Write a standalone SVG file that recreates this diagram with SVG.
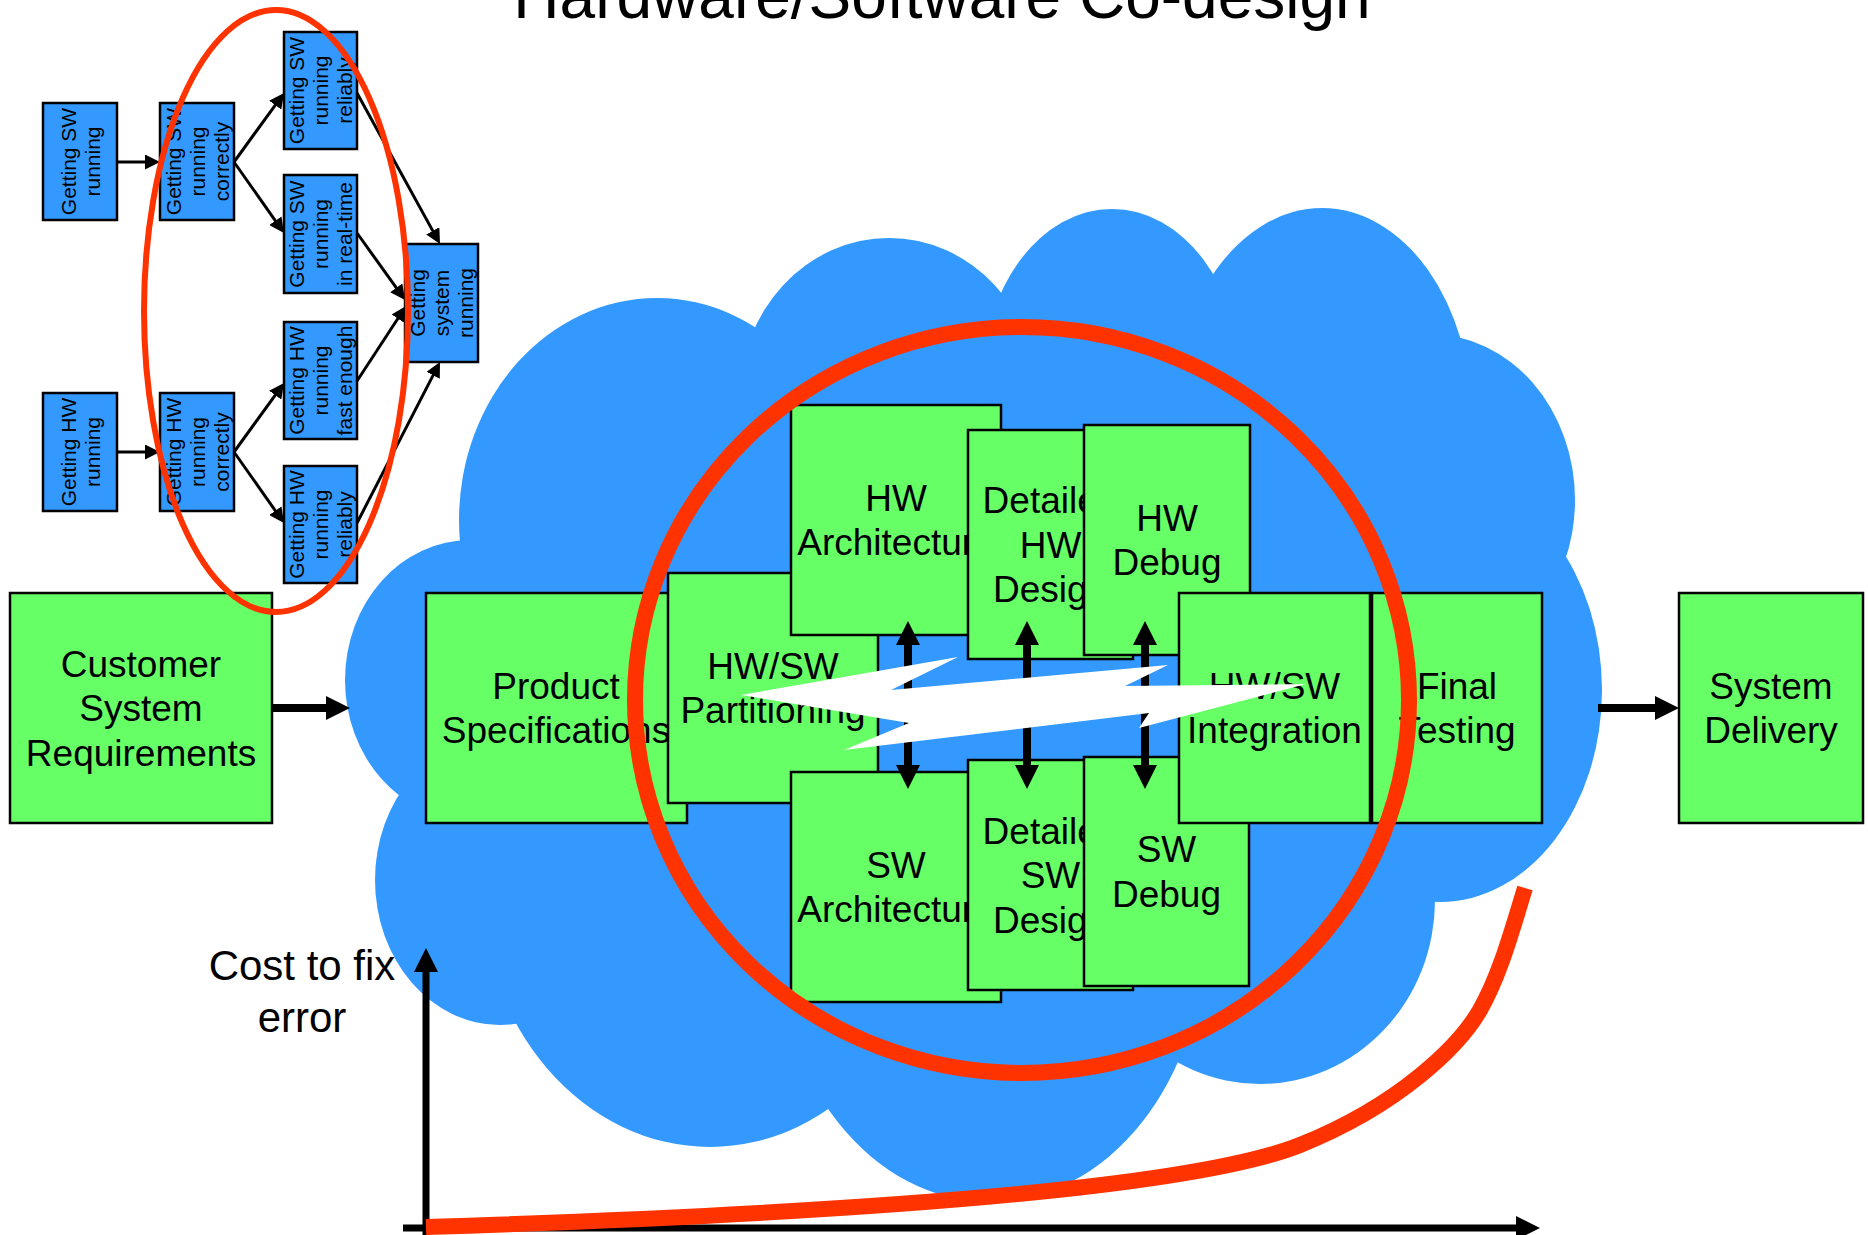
<svg xmlns="http://www.w3.org/2000/svg" width="1868" height="1235" viewBox="0 0 1868 1235">
<style>
.g{fill:#66FF66;stroke:#000;stroke-width:2.5}
.b{fill:#3399FF;stroke:#000;stroke-width:2.5}
text{font-family:'Liberation Sans',Arial,sans-serif;fill:#000;text-anchor:middle}
.lbl{font-size:37px}
.sm{font-size:21px}
.thin{stroke:#000;stroke-width:3;fill:none;marker-end:url(#ahs)}
.thick{stroke:#000;stroke-width:8;fill:none;marker-end:url(#ahb)}
.dbl{stroke:#000;stroke-width:8;fill:none;marker-start:url(#ahb);marker-end:url(#ahb)}
.cloud{fill:#3399FF;stroke:none}
.red{fill:none;stroke:#FF3300}
</style>
<defs>
<marker id="ahs" markerUnits="userSpaceOnUse" markerWidth="15" markerHeight="15" refX="10" refY="7.5" orient="auto"><path d="M0,0 L15,7.5 L0,15 z" fill="#000"/></marker>
<marker id="ahb" markerUnits="userSpaceOnUse" markerWidth="24" markerHeight="24" refX="4" refY="12" orient="auto-start-reverse"><path d="M0,0 L24,12 L0,24 z" fill="#000"/></marker>
</defs>
<rect width="1868" height="1235" fill="#fff"/>

<!-- small flowchart -->
<g id="sw-running"><rect class="b" x="43" y="103" width="74" height="117"/><text class="sm" transform="translate(80,161.5) rotate(-90)"><tspan x="0" y="-4.5">Getting SW</tspan><tspan x="0" y="19.5">running</tspan></text></g>
<g id="sw-correct"><rect class="b" x="160" y="103" width="74" height="117"/><text class="sm" transform="translate(197,161.5) rotate(-90)"><tspan x="0" y="-16.5">Getting SW</tspan><tspan x="0" y="7.5">running</tspan><tspan x="0" y="31.5">correctly</tspan></text></g>
<g id="sw-reliable"><rect class="b" x="284" y="32" width="73" height="117"/><text class="sm" transform="translate(320.5,90.5) rotate(-90)"><tspan x="0" y="-16.5">Getting SW</tspan><tspan x="0" y="7.5">running</tspan><tspan x="0" y="31.5">reliably</tspan></text></g>
<g id="sw-realtime"><rect class="b" x="284" y="175" width="73" height="118"/><text class="sm" transform="translate(320.5,234) rotate(-90)"><tspan x="0" y="-16.5">Getting SW</tspan><tspan x="0" y="7.5">running</tspan><tspan x="0" y="31.5">in real-time</tspan></text></g>
<g id="sys-running"><rect class="b" x="405" y="244" width="73" height="118"/><text class="sm" transform="translate(441.5,303) rotate(-90)"><tspan x="0" y="-16.5">Getting</tspan><tspan x="0" y="7.5">system</tspan><tspan x="0" y="31.5">running</tspan></text></g>
<g id="hw-running"><rect class="b" x="43" y="393" width="74" height="118"/><text class="sm" transform="translate(80,452) rotate(-90)"><tspan x="0" y="-4.5">Getting HW</tspan><tspan x="0" y="19.5">running</tspan></text></g>
<g id="hw-correct"><rect class="b" x="160" y="393" width="74" height="118"/><text class="sm" transform="translate(197,452) rotate(-90)"><tspan x="0" y="-16.5">Getting HW</tspan><tspan x="0" y="7.5">running</tspan><tspan x="0" y="31.5">correctly</tspan></text></g>
<g id="hw-fast"><rect class="b" x="284" y="322" width="73" height="117"/><text class="sm" transform="translate(320.5,380.5) rotate(-90)"><tspan x="0" y="-16.5">Getting HW</tspan><tspan x="0" y="7.5">running</tspan><tspan x="0" y="31.5">fast enough</tspan></text></g>
<g id="hw-reliable"><rect class="b" x="284" y="466" width="73" height="117"/><text class="sm" transform="translate(320.5,524.5) rotate(-90)"><tspan x="0" y="-16.5">Getting HW</tspan><tspan x="0" y="7.5">running</tspan><tspan x="0" y="31.5">reliably</tspan></text></g>

<g id="flow-connectors">
<line class="thin" x1="117" y1="162" x2="155" y2="162"/>
<line class="thin" x1="234" y1="162" x2="281.1" y2="97.05"/>
<line class="thin" x1="234" y1="162" x2="281.1" y2="228.9"/>
<line class="thin" x1="357" y1="93" x2="437.6" y2="239.6"/>
<line class="thin" x1="357" y1="233" x2="402.1" y2="295.9"/>
<line class="thin" x1="357" y1="381" x2="403.3" y2="310.2"/>
<line class="thin" x1="357" y1="523" x2="437.7" y2="366.4"/>
<line class="thin" x1="117" y1="452" x2="155" y2="452"/>
<line class="thin" x1="234" y1="452" x2="281.1" y2="387.05"/>
<line class="thin" x1="234" y1="452" x2="281.1" y2="518.9"/>
</g>

<!-- cloud -->
<g id="cloud">
<polygon class="cloud" points="657,520 889,400 1112,384 1322,420 1430,500 1440,690 1260,900 990,930 710,880 500,880 470,680"/>
<ellipse class="cloud" cx="657" cy="520" rx="198" ry="222"/>
<ellipse class="cloud" cx="889" cy="400" rx="150" ry="162"/>
<ellipse class="cloud" cx="1112" cy="384" rx="130" ry="175"/>
<ellipse class="cloud" cx="1322" cy="420" rx="150" ry="212"/>
<ellipse class="cloud" cx="1430" cy="500" rx="145" ry="166"/>
<ellipse class="cloud" cx="1440" cy="690" rx="162" ry="212"/>
<ellipse class="cloud" cx="1260" cy="900" rx="175" ry="184"/>
<ellipse class="cloud" cx="990" cy="930" rx="215" ry="272"/>
<ellipse class="cloud" cx="710" cy="880" rx="230" ry="267"/>
<ellipse class="cloud" cx="500" cy="880" rx="125" ry="145"/>
<ellipse class="cloud" cx="470" cy="680" rx="125" ry="140"/>
</g>

<!-- process boxes -->
<g id="customer"><rect class="g" x="10" y="593" width="262" height="230"/><text class="lbl"><tspan x="141" y="676.5">Customer</tspan><tspan x="141" y="721">System</tspan><tspan x="141" y="765.5">Requirements</tspan></text></g>
<g id="product"><rect class="g" x="426" y="593" width="261" height="230"/><text class="lbl"><tspan x="556" y="698.75">Product</tspan><tspan x="556" y="743.25">Specifications</tspan></text></g>
<g id="partitioning"><rect class="g" x="668" y="573" width="210" height="230"/><text class="lbl"><tspan x="773" y="678.75">HW/SW</tspan><tspan x="773" y="723.25">Partitioning</tspan></text></g>
<g id="hw-arch"><rect class="g" x="791" y="405" width="210" height="230"/><text class="lbl"><tspan x="896" y="510.75">HW</tspan><tspan x="896" y="555.25">Architecture</tspan></text></g>
<g id="hw-detail"><rect class="g" x="968" y="430" width="165" height="229"/><text class="lbl"><tspan x="1050.5" y="513">Detailed</tspan><tspan x="1050.5" y="557.5">HW</tspan><tspan x="1050.5" y="602">Design</tspan></text></g>
<g id="hw-debug"><rect class="g" x="1084" y="425" width="166" height="230"/><text class="lbl"><tspan x="1167" y="530.75">HW</tspan><tspan x="1167" y="575.25">Debug</tspan></text></g>
<g id="sw-arch"><rect class="g" x="791" y="772" width="210" height="230"/><text class="lbl"><tspan x="896" y="877.75">SW</tspan><tspan x="896" y="922.25">Architecture</tspan></text></g>
<g id="sw-detail"><rect class="g" x="968" y="760" width="165" height="230"/><text class="lbl"><tspan x="1050.5" y="843.5">Detailed</tspan><tspan x="1050.5" y="888">SW</tspan><tspan x="1050.5" y="932.5">Design</tspan></text></g>
<g id="sw-debug"><rect class="g" x="1084" y="757" width="165" height="229"/><text class="lbl"><tspan x="1166.5" y="862.25">SW</tspan><tspan x="1166.5" y="906.75">Debug</tspan></text></g>
<g id="integration"><rect class="g" x="1179" y="593" width="191" height="230"/><text class="lbl"><tspan x="1274.5" y="698.75">HW/SW</tspan><tspan x="1274.5" y="743.25">Integration</tspan></text></g>
<g id="final-testing"><rect class="g" x="1372" y="593" width="170" height="230"/><text class="lbl"><tspan x="1457" y="698.75">Final</tspan><tspan x="1457" y="743.25">Testing</tspan></text></g>
<g id="delivery"><rect class="g" x="1679" y="593" width="184" height="230"/><text class="lbl"><tspan x="1771" y="698.75">System</tspan><tspan x="1771" y="743.25">Delivery</tspan></text></g>

<g id="connectors">
<line class="thick" x1="272" y1="708" x2="330" y2="708"/>
<line class="thick" x1="1598" y1="708" x2="1659" y2="708"/>
<line class="dbl" x1="908" y1="641" x2="908" y2="769"/>
<line class="dbl" x1="1027" y1="641" x2="1027" y2="769"/>
<line class="dbl" x1="1145" y1="641" x2="1145" y2="769"/>
</g>

<!-- lightning bolt -->
<polygon id="bolt" fill="#fff" points="741,695 958,657 891,690 1168,665 1125,686 1306,684 1139,728 1149,713 844,750 909,723"/>

<!-- red highlights -->
<ellipse class="red" cx="276" cy="311" rx="132" ry="301" stroke-width="6"/>
<ellipse class="red" cx="1022" cy="700" rx="387" ry="373" stroke-width="16"/>

<!-- cost chart -->
<g id="cost-axes">
<line stroke="#000" stroke-width="7" x1="426" y1="1240" x2="426" y2="968" marker-end="url(#ahb)"/>
<line stroke="#000" stroke-width="7" x1="403" y1="1228" x2="1520" y2="1228" marker-end="url(#ahb)"/>
</g>
<path class="red" stroke-width="16" d="M426,1227 C900,1212 1200,1185 1300,1145 C1400,1105 1460,1045 1480,1010 C1500,975 1512,930 1525,888"/>
<text style="font-size:42px"><tspan x="302" y="980">Cost to fix</tspan><tspan x="302" y="1032">error</tspan></text>

<text style="font-size:64px" x="942" y="18">Hardware/Software Co-design</text>
</svg>
